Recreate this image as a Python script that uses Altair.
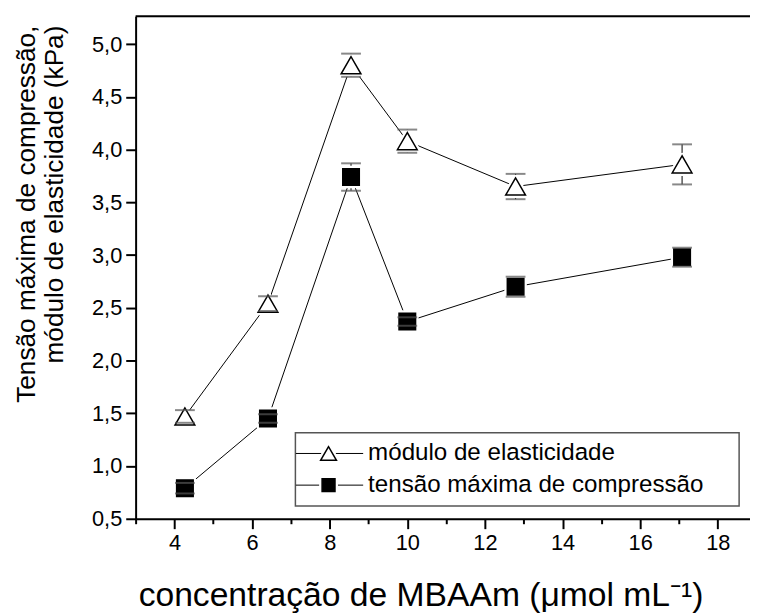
import altair as alt
import pandas as pd

# ---- data ----
conc = [4.27, 6.41, 8.55, 10.0, 12.79, 17.08]
modulo = [1.47, 2.54, 4.80, 4.08, 3.65, 3.86]
modulo_err = [0.06, 0.07, 0.11, 0.11, 0.12, 0.19]
tensao = [0.79, 1.45, 3.74, 2.37, 2.70, 2.98]
tensao_err = [0.05, 0.04, 0.13, 0.04, 0.095, 0.09]
series_names = ["módulo de elasticidade", "tensão máxima de compressão"]
x_tick_values = list(range(3, 19))
y_tick_values = [0.5 + 0.25 * i for i in range(19)]

rows = []
for name, vals, errs in [(series_names[0], modulo, modulo_err),
                         (series_names[1], tensao, tensao_err)]:
    for c, v, e in zip(conc, vals, errs):
        rows.append(dict(serie=name, conc=c, valor=v, lo=v - e, hi=v + e))
df = pd.DataFrame(rows)

FONT = "Liberation Sans"
W, H = 621, 508

common_axis = dict(
    domainColor="black", domainWidth=2, tickColor="black", tickWidth=2,
    labelFont=FONT, labelFontSize=22, labelColor="black", titleColor="black",
    titleFont=FONT, titleFontWeight="normal", grid=False,
)

x_axis = alt.Axis(
    values=x_tick_values,
    labelExpr="datum.value % 2 == 0 ? datum.label : ''",
    tickSize={"condition": {"test": "datum.value % 2 == 0", "value": 10}, "value": 5},
    title="concentração de MBAAm (μmol mL⁻¹)",
    titleFontSize=34,
    titleX=288, titleY=88, titleAlign="center", titleBaseline="alphabetic",
    labelPadding=4, **common_axis,
)
y_axis = alt.Axis(
    values=y_tick_values,
    labelExpr="round(datum.value*10) % 5 == 0 ? replace(format(datum.value, '.1f'), '.', ',') : ''",
    tickSize={"condition": {"test": "round(datum.value*10) % 5 == 0", "value": 10}, "value": 5},
    title=["Tensão máxima de compressão,", "módulo de elasticidade (kPa)"],
    titleFontSize=26.5,
    titleAngle=-90, titleX=-102, titleY=9, titleAlign="right",
    titleBaseline="alphabetic", titleLineHeight=28, labelPadding=4, **common_axis,
)

X = alt.X("conc:Q", scale=alt.Scale(domain=[3, 18.83], nice=False, zero=False), axis=x_axis)
Y = alt.Y("valor:Q", scale=alt.Scale(domain=[0.5, 5.265], nice=False, zero=False), axis=y_axis)

shape_scale = alt.Scale(domain=series_names, range=["triangle-up", "square"])
fill_scale = alt.Scale(domain=series_names, range=["white", "black"])
size_scale = alt.Scale(domain=series_names, range=[400, 280])

base = alt.Chart(df)

lines = base.mark_line(color="black", strokeWidth=1).encode(
    x=X, y=Y, detail="serie:N", order="conc:Q")

err = base.mark_rule(color="black", strokeWidth=1).encode(
    x=X, y=alt.Y("lo:Q"), y2="hi:Q")

halo = base.mark_point(opacity=1, fill="white", stroke="white", strokeWidth=6,
                       strokeJoin="round", filled=False).encode(
    x=X, y=Y,
    shape=alt.Shape("serie:N", scale=shape_scale, legend=None),
    size=alt.Size("serie:N", scale=size_scale, legend=None))

markers = base.mark_point(opacity=1, stroke="black", strokeWidth=1.5, filled=False).encode(
    x=X, y=Y,
    shape=alt.Shape("serie:N", scale=shape_scale, legend=None),
    fill=alt.Fill("serie:N", scale=fill_scale, legend=None),
    size=alt.Size("serie:N", scale=size_scale, legend=None))

caps = base.transform_fold(["lo", "hi"], as_=["k", "v"]).mark_tick(
    color="#555", thickness=2, size=20, orient="horizontal").encode(
    x=X, y=alt.Y("v:Q"))

# frame top line
top = alt.Chart(pd.DataFrame({"a": [0]})).mark_rule(color="black", strokeWidth=2).encode(
    x=alt.value(0), x2=alt.value(W), y=alt.value(0))

# legend (manual)
leg_df = pd.DataFrame({"serie": series_names})
box = alt.Chart(pd.DataFrame({"a": [0]})).mark_rect(
    fill="white", stroke="#555", strokeWidth=1.5).encode(
    x=alt.value(161.5), x2=alt.value(610), y=alt.value(421), y2=alt.value(495))

legend_layers = [box]
leg_sizes = [256, 170]
for i, name in enumerate(series_names):
    yy = 442 + 32 * i
    d = alt.Chart(leg_df).transform_filter(alt.datum.serie == name)
    legend_layers.append(d.mark_rule(color="black", strokeWidth=1).encode(
        x=alt.value(162), x2=alt.value(230), y=alt.value(yy)))
    legend_layers.append(d.mark_point(opacity=1, fill="white", stroke="white",
                                      strokeWidth=6, strokeJoin="round").encode(
        x=alt.value(195), y=alt.value(yy),
        shape=alt.Shape("serie:N", scale=shape_scale, legend=None),
        size=alt.value(leg_sizes[i])))
    legend_layers.append(d.mark_point(opacity=1, stroke="black", strokeWidth=1.5).encode(
        x=alt.value(195), y=alt.value(yy),
        shape=alt.Shape("serie:N", scale=shape_scale, legend=None),
        fill=alt.Fill("serie:N", scale=fill_scale, legend=None),
        size=alt.value(leg_sizes[i])))
    legend_layers.append(d.mark_text(align="left", baseline="middle", fontSize=24.4,
                                     font=FONT, color="black").encode(
        x=alt.value(235), y=alt.value(yy), text="serie:N"))

chart = alt.layer(lines, err, halo, markers, caps, top, *legend_layers).properties(
    width=W, height=H,
    autosize=alt.AutoSizeParams(type="none"),
    padding={"left": 129, "top": 5, "right": 0, "bottom": 95},
).configure_view(stroke=None).configure(background="white")

chart.save("out.html", embed_options={"renderer": "svg", "actions": False})
